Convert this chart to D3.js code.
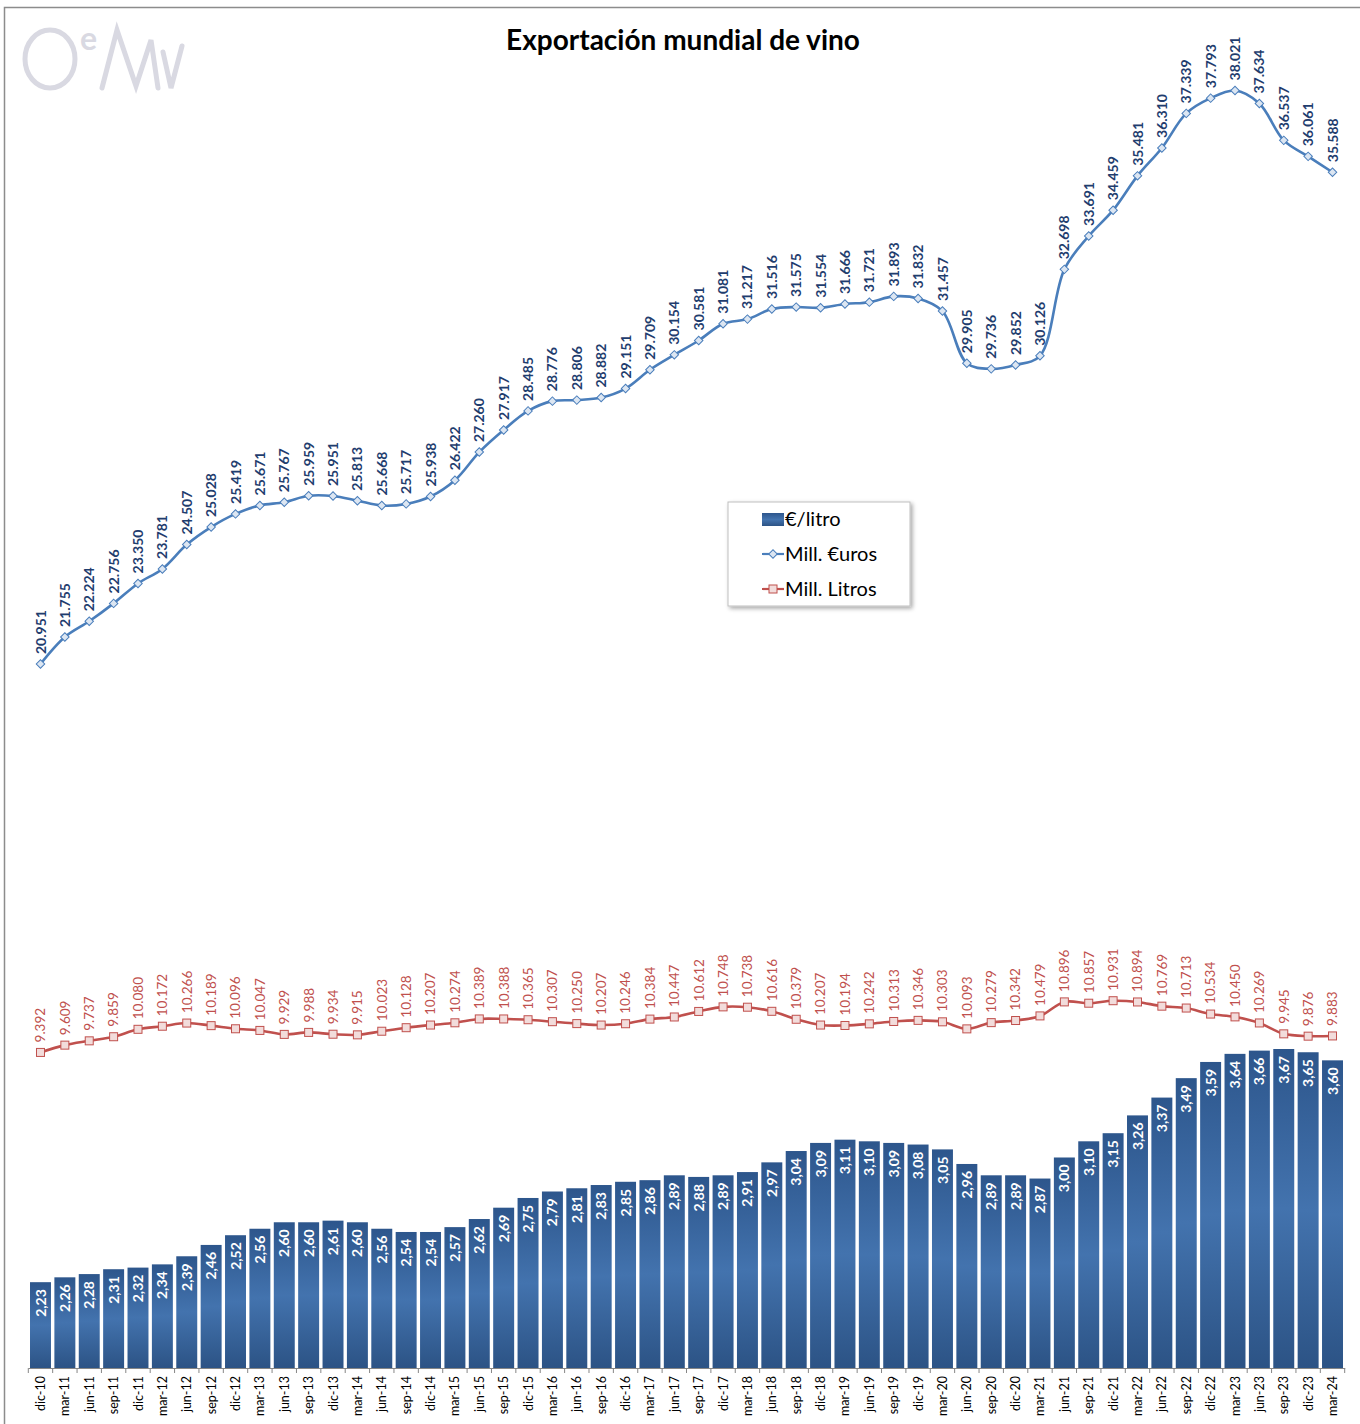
<!DOCTYPE html>
<html><head><meta charset="utf-8">
<script src="https://cdn.jsdelivr.net/npm/d3@7/dist/d3.min.js"></script>
<style>body{margin:0;background:#fff;}svg{display:block;}</style>
</head><body>
<svg id="chart" width="1360" height="1424"></svg>
<script>
const categories = ["dic-10","mar-11","jun-11","sep-11","dic-11","mar-12","jun-12","sep-12","dic-12","mar-13","jun-13","sep-13","dic-13","mar-14","jun-14","sep-14","dic-14","mar-15","jun-15","sep-15","dic-15","mar-16","jun-16","sep-16","dic-16","mar-17","jun-17","sep-17","dic-17","mar-18","jun-18","sep-18","dic-18","mar-19","jun-19","sep-19","dic-19","mar-20","jun-20","sep-20","dic-20","mar-21","jun-21","sep-21","dic-21","mar-22","jun-22","sep-22","dic-22","mar-23","jun-23","sep-23","dic-23","mar-24"];
const euroLitro = [2.23,2.26,2.28,2.31,2.32,2.34,2.39,2.46,2.52,2.56,2.60,2.60,2.61,2.60,2.56,2.54,2.54,2.57,2.62,2.69,2.75,2.79,2.81,2.83,2.85,2.86,2.89,2.88,2.89,2.91,2.97,3.04,3.09,3.11,3.10,3.09,3.08,3.05,2.96,2.89,2.89,2.87,3.00,3.10,3.15,3.26,3.37,3.49,3.59,3.64,3.66,3.67,3.65,3.60];
const millEuros = [20.951,21.755,22.224,22.756,23.350,23.781,24.507,25.028,25.419,25.671,25.767,25.959,25.951,25.813,25.668,25.717,25.938,26.422,27.260,27.917,28.485,28.776,28.806,28.882,29.151,29.709,30.154,30.581,31.081,31.217,31.516,31.575,31.554,31.666,31.721,31.893,31.832,31.457,29.905,29.736,29.852,30.126,32.698,33.691,34.459,35.481,36.310,37.339,37.793,38.021,37.634,36.537,36.061,35.588];
const millLitros = [9.392,9.609,9.737,9.859,10.080,10.172,10.266,10.189,10.096,10.047,9.929,9.988,9.934,9.915,10.023,10.128,10.207,10.274,10.389,10.388,10.365,10.307,10.250,10.207,10.246,10.384,10.447,10.612,10.748,10.738,10.616,10.379,10.207,10.194,10.242,10.313,10.346,10.303,10.093,10.279,10.342,10.479,10.896,10.857,10.931,10.894,10.769,10.713,10.534,10.450,10.269,9.945,9.876,9.883];
const legendLabels = ["€/litro","Mill. €uros","Mill. Litros"];
const titleText = "Exportación mundial de vino";

const svg = d3.select("#chart");
const font = "Lato, 'Open Sans', sans-serif";
const plot = {left: 28.3, right: 1344.7, top: 24, bottom: 1368};

const defs = svg.append("defs");
const grad = defs.append("linearGradient").attr("id","barGrad").attr("x1",0).attr("y1",0).attr("x2",0).attr("y2",1);
grad.append("stop").attr("offset","0%").attr("stop-color","#2d568c");
grad.append("stop").attr("offset","50%").attr("stop-color","#4373ae");
grad.append("stop").attr("offset","100%").attr("stop-color","#2c5385");
const sh = defs.append("filter").attr("id","shadow").attr("x","-10%").attr("y","-10%").attr("width","130%").attr("height","130%");
sh.append("feDropShadow").attr("dx",2).attr("dy",2).attr("stdDeviation",2).attr("flood-color","#000").attr("flood-opacity",0.35);

// outer border
svg.append("rect").attr("x",4.5).attr("y",7.5).attr("width",1360).attr("height",1430).attr("fill","none").attr("stroke","#8c8c8c").attr("stroke-width",1.5);

// logo
const logo = svg.append("g").attr("fill","none").attr("stroke","#d9d9e2").attr("stroke-width",5).attr("stroke-linecap","round");
logo.append("ellipse").attr("cx",50).attr("cy",59).attr("rx",25).attr("ry",29);
logo.append("text").attr("x",80).attr("y",50).attr("font-family",font).attr("font-weight","bold").attr("font-size",32).attr("fill","#d9d9e2").attr("stroke","none").text("e");
logo.append("path").attr("d","M102,88 L117,30 L136,86 L151,40 L158,88");
logo.append("path").attr("d","M163,52 L171,88 L182,46");

// title
svg.append("text").attr("x",683).attr("y",50).attr("text-anchor","middle").attr("font-family",font).attr("font-weight","bold").attr("font-size",28).attr("fill","#000").text(titleText);

const x = d3.scaleBand().domain(categories).range([plot.left, plot.right]).paddingInner(0.14).paddingOuter(0.07);
const yBar = d3.scaleLinear().domain([1.7, 10]).range([plot.bottom, plot.top]);
const yLine = d3.scaleLinear().domain([0, 40]).range([plot.bottom, plot.top]);
const cx = d => x(d) + x.bandwidth()/2;

// bars
svg.append("g").selectAll("rect").data(categories).join("rect")
  .attr("x", d => x(d)).attr("width", x.bandwidth())
  .attr("y", (d,i) => yBar(euroLitro[i])).attr("height", (d,i) => plot.bottom - yBar(euroLitro[i]))
  .attr("fill","url(#barGrad)");

svg.append("g").selectAll("text").data(categories).join("text")
  .attr("transform", (d,i) => `translate(${cx(d)},${yBar(euroLitro[i]) + 7}) rotate(-90)`)
  .attr("dy","0.36em").attr("text-anchor","end")
  .attr("font-family",font).attr("font-weight","bold").attr("font-size",14).attr("fill","#fff")
  .text((d,i) => euroLitro[i].toFixed(2).replace(".",","));

// x axis
const axis = svg.append("g").attr("transform",`translate(0,${plot.bottom})`)
  .call(d3.axisBottom(x).tickSize(0).tickFormat(""));
axis.select(".domain").attr("stroke","#868686").attr("stroke-width",1);
const bounds = d3.range(categories.length + 1).map(i => plot.left + i * (plot.right - plot.left) / categories.length);
svg.append("g").selectAll("line").data(bounds).join("line")
  .attr("x1", d => d).attr("x2", d => d).attr("y1", plot.bottom).attr("y2", plot.bottom + 5)
  .attr("stroke","#868686").attr("stroke-width",1);
svg.append("g").selectAll("text").data(categories).join("text")
  .attr("transform", d => `translate(${cx(d)},${plot.bottom + 8}) rotate(-90)`)
  .attr("dy","0.36em").attr("text-anchor","end")
  .attr("font-family",font).attr("font-size",12.5).attr("fill","#000").text(d => d);

// lines
const lineGen = (vals) => d3.line().x((d,i) => cx(categories[i])).y(d => yLine(d)).curve(d3.curveCatmullRom.alpha(0.5))(vals);

svg.append("path").attr("d", lineGen(millEuros)).attr("fill","none").attr("stroke","#4a7ebb").attr("stroke-width",2.6);
svg.append("g").selectAll("path").data(millEuros).join("path")
  .attr("transform",(d,i) => `translate(${cx(categories[i])},${yLine(d)}) rotate(45)`)
  .attr("d","M-3,-3H3V3H-3Z").attr("fill","#dce6f2").attr("stroke","#4a7ebb").attr("stroke-width",1);
svg.append("g").selectAll("text").data(millEuros).join("text")
  .attr("transform",(d,i) => `translate(${cx(categories[i])},${yLine(d) - 10}) rotate(-90)`)
  .attr("dy","0.36em").attr("text-anchor","start")
  .attr("font-family",font).attr("font-weight","bold").attr("font-size",14).attr("fill","#1f3d6e")
  .text(d => d.toFixed(3));

svg.append("path").attr("d", lineGen(millLitros)).attr("fill","none").attr("stroke","#c0504d").attr("stroke-width",2.6);
svg.append("g").selectAll("rect").data(millLitros).join("rect")
  .attr("x",(d,i) => cx(categories[i]) - 4).attr("y", d => yLine(d) - 4).attr("width",8).attr("height",8)
  .attr("fill","#f2dcdb").attr("stroke","#c0504d").attr("stroke-width",1);
svg.append("g").selectAll("text").data(millLitros).join("text")
  .attr("transform",(d,i) => `translate(${cx(categories[i])},${yLine(d) - 10}) rotate(-90)`)
  .attr("dy","0.36em").attr("text-anchor","start")
  .attr("font-family",font).attr("font-size",13.5).attr("fill","#c0504d")
  .text(d => d.toFixed(3));

// legend
const lg = svg.append("g");
lg.append("rect").attr("x",728).attr("y",502).attr("width",182).attr("height",104).attr("fill","#fff").attr("stroke","#bfbfbf").attr("stroke-width",1).attr("filter","url(#shadow)");
const ly = [519, 554, 589];
lg.append("rect").attr("x",762).attr("y",513).attr("width",22).attr("height",13).attr("fill","url(#barGrad)");
lg.append("line").attr("x1",762).attr("x2",784).attr("y1",ly[1]).attr("y2",ly[1]).attr("stroke","#4a7ebb").attr("stroke-width",2.2);
lg.append("path").attr("transform",`translate(773,${ly[1]}) rotate(45)`).attr("d","M-3,-3H3V3H-3Z").attr("fill","#dce6f2").attr("stroke","#4a7ebb");
lg.append("line").attr("x1",762).attr("x2",784).attr("y1",ly[2]).attr("y2",ly[2]).attr("stroke","#c0504d").attr("stroke-width",2.2);
lg.append("rect").attr("x",769).attr("y",ly[2]-4).attr("width",8).attr("height",8).attr("fill","#f2dcdb").attr("stroke","#c0504d");
lg.selectAll("text.lt").data(legendLabels).join("text").attr("class","lt")
  .attr("x",785).attr("y",(d,i) => ly[i]).attr("dy","0.36em")
  .attr("font-family",font).attr("font-size",20).attr("fill","#000").text(d => d);
</script>
</body></html>
